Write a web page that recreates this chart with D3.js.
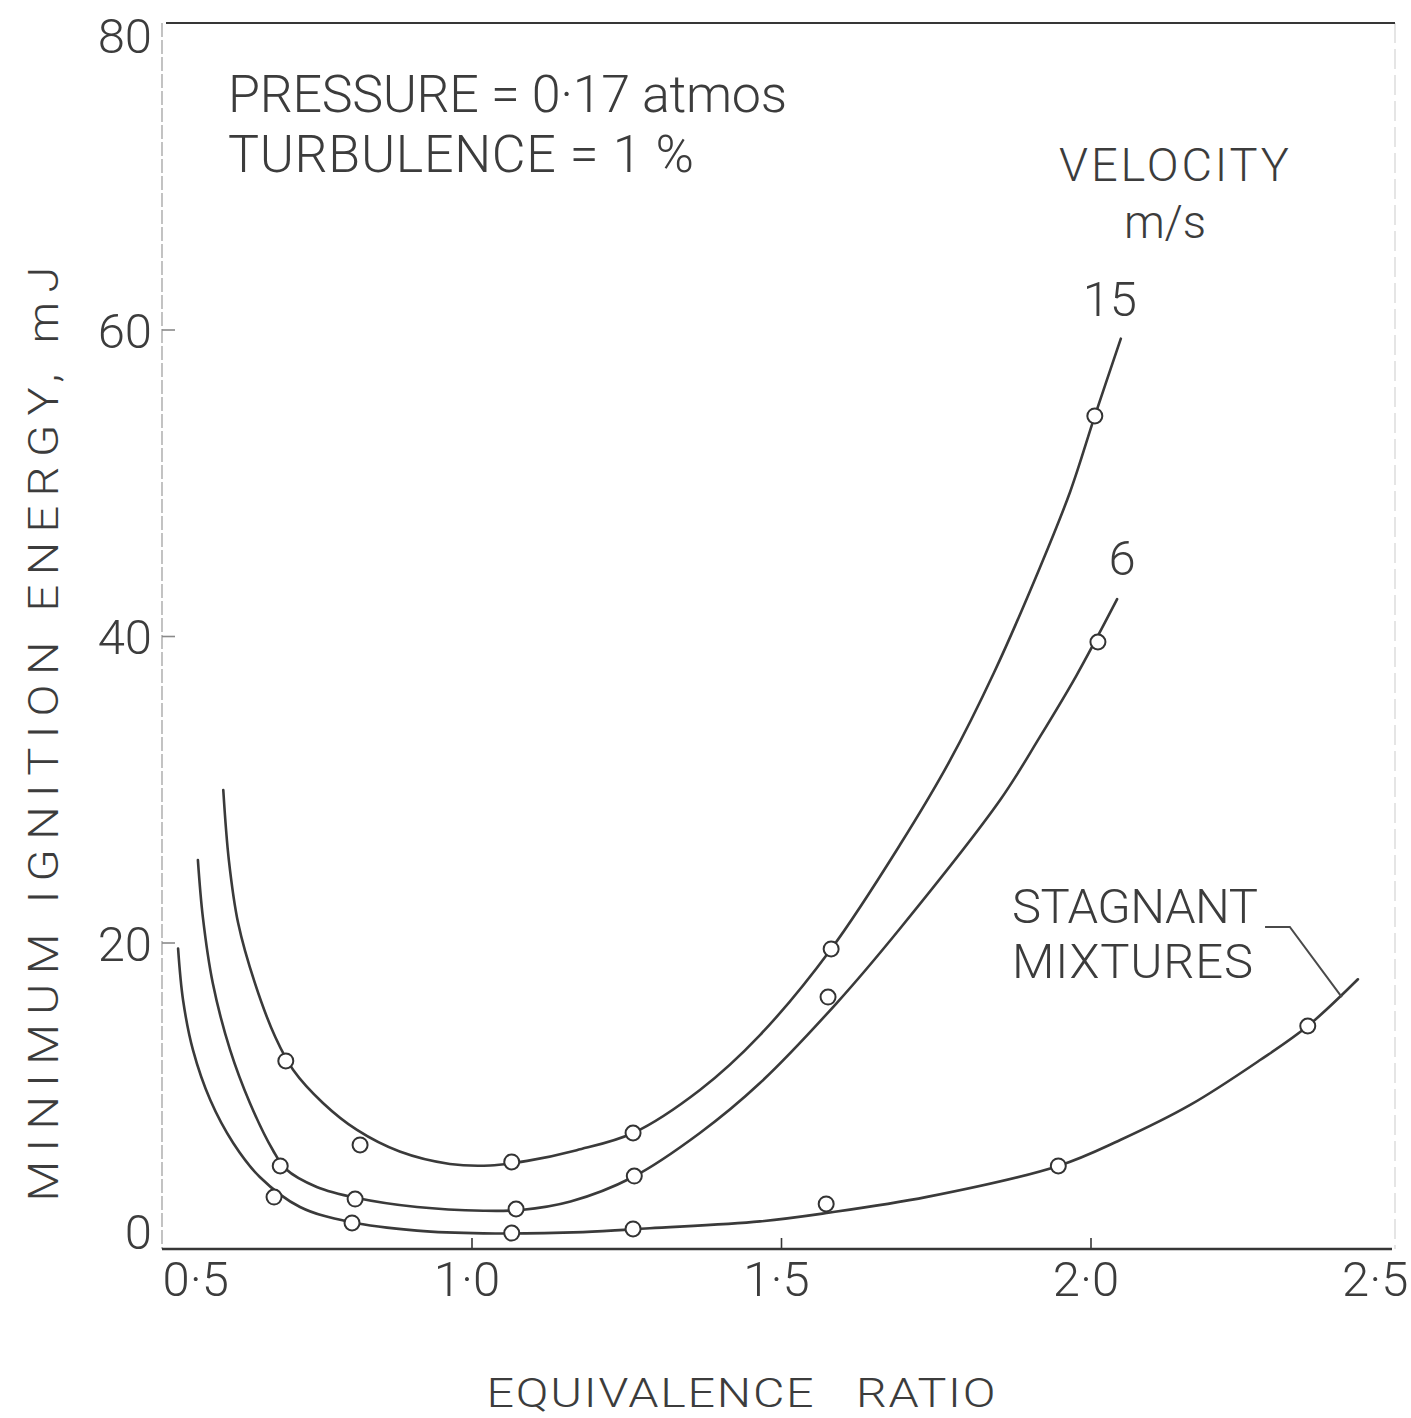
<!DOCTYPE html>
<html>
<head>
<meta charset="utf-8">
<title>Minimum ignition energy vs equivalence ratio</title>
<script src="https://cdn.jsdelivr.net/npm/d3@7/dist/d3.min.js"></script>
<style>
  html, body { margin: 0; padding: 0; background: #ffffff; }
  svg { display: block; }
  text { font-family: Roboto, "DejaVu Sans", sans-serif; font-weight: 300; fill: #3c3c3c; }
</style>
</head>
<body>
<svg id="chart" width="1411" height="1418"></svg>
<script>
// Axis ticks
const xTickValues = [0.5, 1.0, 1.5, 2.0, 2.5];
const xTickLabels = ["0·5", "1·0", "1·5", "2·0", "2·5"];
const yTickValues = [0, 20, 40, 60, 80];

// Faired curves [equivalence ratio, energy mJ]
const curve15 = [
  [0.599, 29.95], [0.608, 25.38], [0.623, 21.27], [0.650, 17.36], [0.683, 13.83],
  [0.712, 11.68], [0.760, 9.53], [0.815, 7.77], [0.884, 6.36], [0.965, 5.55],
  [1.030, 5.45], [1.090, 5.75], [1.170, 6.45], [1.261, 7.57], [1.369, 10.38],
  [1.466, 13.96], [1.581, 19.58], [1.692, 26.36], [1.773, 31.88], [1.844, 37.60],
  [1.918, 44.44], [1.967, 49.40], [2.007, 54.36], [2.049, 59.40]
];
const curve6 = [
  [0.558, 25.38], [0.566, 21.66], [0.582, 17.36], [0.610, 12.99], [0.642, 9.53],
  [0.679, 6.46], [0.700, 5.22], [0.750, 4.05], [0.815, 3.33], [0.912, 2.74],
  [1.019, 2.50], [1.080, 2.55], [1.160, 3.10], [1.261, 4.70], [1.369, 7.57],
  [1.466, 10.83], [1.590, 16.05], [1.692, 20.90], [1.854, 29.30], [1.918, 33.40],
  [1.977, 37.40], [2.043, 42.40]
];
const curveStagnant = [
  [0.526, 19.60], [0.534, 16.25], [0.550, 12.99], [0.578, 9.72], [0.615, 6.92],
  [0.658, 4.70], [0.723, 2.74], [0.804, 1.76], [0.912, 1.20], [1.019, 1.02],
  [1.180, 1.10], [1.288, 1.35], [1.466, 1.80], [1.574, 2.35], [1.736, 3.40],
  [1.948, 5.42], [2.048, 7.11], [2.161, 9.40], [2.274, 12.33], [2.351, 14.55],
  [2.432, 17.60]
];

// Measured points
const points15 = [[0.700, 12.27], [0.820, 6.79], [1.065, 5.68], [1.261, 7.57], [1.581, 19.58], [2.007, 54.36]];
const points6 = [[0.691, 5.42], [0.812, 3.26], [1.072, 2.61], [1.263, 4.76], [1.576, 16.44], [2.012, 39.61]];
const pointsStagnant = [[0.681, 3.39], [0.807, 1.70], [1.065, 1.04], [1.261, 1.31], [1.573, 2.94], [1.948, 5.42], [2.351, 14.55]];

// Leader from the STAGNANT MIXTURES label to its curve
const stagnantLeader = [[2.282, 21.01], [2.322, 21.01], [2.406, 16.44]];

const svg = d3.select("#chart");
const ink = "#363636";

const x = d3.scaleLinear().domain([0.5, 2.5]).range([162, 1400]);
const y = d3.scaleLinear().domain([0, 80]).range([1249, 23]);

// Frame: faint left and right sides, solid top and bottom
svg.append("line").attr("x1", x(0.5)).attr("x2", x(0.5)).attr("y1", y(80)).attr("y2", y(0))
  .attr("stroke", "#b4b4b4").attr("stroke-width", 1.6).attr("stroke-dasharray", "14,3");
svg.append("line").attr("x1", x(2.5) - 5).attr("x2", x(2.5) - 5).attr("y1", y(80)).attr("y2", y(0))
  .attr("stroke", "#dadada").attr("stroke-width", 1.4).attr("stroke-dasharray", "20,6");
svg.append("line").attr("x1", x(0.5) + 4).attr("x2", x(2.5) - 5).attr("y1", y(80)).attr("y2", y(80))
  .attr("stroke", ink).attr("stroke-width", 2.2);
svg.append("line").attr("x1", x(0.5)).attr("x2", x(2.5) - 8).attr("y1", y(0)).attr("y2", y(0))
  .attr("stroke", ink).attr("stroke-width", 2.4);

// Bottom axis, ticks pointing inward
const xAxis = d3.axisBottom(x)
  .tickValues(xTickValues)
  .tickFormat((d, i) => xTickLabels[i])
  .tickSize(-11)
  .tickPadding(12);
const gx = svg.append("g").attr("transform", `translate(0,${y(0)})`).call(xAxis);
gx.select(".domain").remove();
gx.selectAll(".tick line").attr("stroke", ink).attr("stroke-width", 1.6)
  .attr("display", d => (d === 0.5 || d === 2.5) ? "none" : null);
gx.selectAll(".tick text")
  .attr("font-size", 49).attr("font-family", null).attr("fill", "#3c3c3c")
  .attr("text-anchor", d => d === 0.5 ? "start" : (d === 2.5 ? "end" : "middle"))
  .attr("dx", d => d === 0.5 ? 0 : (d === 2.5 ? 8 : -5));

// Left axis, ticks pointing inward
const yAxis = d3.axisLeft(y)
  .tickValues(yTickValues)
  .tickSize(-13)
  .tickPadding(10);
const gy = svg.append("g").attr("transform", `translate(${x(0.5)},0)`).call(yAxis);
gy.select(".domain").remove();
gy.selectAll(".tick line").attr("stroke", "#8a8a8a").attr("stroke-width", 1.6)
  .attr("display", d => (d === 0 || d === 80) ? "none" : null);
gy.selectAll(".tick text")
  .attr("font-size", 49).attr("font-family", null).attr("fill", "#4a4a4a")
  .attr("dy", d => d === 0 ? "-0.02em" : (d === 80 ? "0.6em" : "0.36em"));

// Axis titles
svg.append("text")
  .attr("transform", `translate(58,${(y(0) + y(80)) / 2 + 98}) rotate(-90) scale(1.12,1)`)
  .attr("text-anchor", "middle").attr("font-size", 42)
  .attr("textLength", 935 / 1.12).attr("lengthAdjust", "spacing")
  .text("MINIMUM IGNITION ENERGY, mJ");
svg.append("text")
  .attr("transform", "translate(741,1407) scale(1.18,1)")
  .attr("text-anchor", "middle").attr("font-size", 41)
  .attr("textLength", 509 / 1.18).attr("lengthAdjust", "spacing")
  .style("white-space", "pre")
  .text("EQUIVALENCE   RATIO");

// Test conditions
svg.append("text").attr("x", 228).attr("y", 112).attr("font-size", 52)
  .attr("textLength", 559).attr("lengthAdjust", "spacing")
  .text("PRESSURE = 0·17 atmos");
svg.append("text").attr("x", 228).attr("y", 172).attr("font-size", 52)
  .attr("textLength", 466).attr("lengthAdjust", "spacing")
  .text("TURBULENCE = 1 %");

// Velocity key
svg.append("text").attr("x", 1174).attr("y", 181).attr("font-size", 47)
  .attr("text-anchor", "middle").attr("textLength", 230).attr("lengthAdjust", "spacing")
  .text("VELOCITY");
svg.append("text").attr("x", 1165).attr("y", 238).attr("font-size", 46)
  .attr("text-anchor", "middle").attr("textLength", 82).attr("lengthAdjust", "spacing")
  .text("m/s");

// Curves, faired through the knots
const line = d3.line()
  .x(d => x(d[0])).y(d => y(d[1]))
  .curve(d3.curveCatmullRom.alpha(0.5));

const series = [
  { name: "15", curve: curve15, points: points15 },
  { name: "6", curve: curve6, points: points6 },
  { name: "stagnant", curve: curveStagnant, points: pointsStagnant }
];

svg.append("g").selectAll("path").data(series).join("path")
  .attr("d", d => line(d.curve))
  .attr("fill", "none").attr("stroke", "#3a3a3a").attr("stroke-width", 2.6)
  .attr("stroke-linecap", "round");

// Curve labels placed just above the curve ends
const end15 = curve15[curve15.length - 1];
svg.append("text").attr("x", x(end15[0]) - 11).attr("y", y(end15[1]) - 23)
  .attr("font-size", 49).attr("text-anchor", "middle").text("15");
const end6 = curve6[curve6.length - 1];
svg.append("text").attr("x", x(end6[0]) + 5).attr("y", y(end6[1]) - 24)
  .attr("font-size", 49).attr("text-anchor", "middle").text("6");

// Stagnant label and leader
svg.append("text").attr("x", 1012).attr("y", 923).attr("font-size", 49)
  .attr("textLength", 246).attr("lengthAdjust", "spacing").text("STAGNANT");
svg.append("text").attr("x", 1012).attr("y", 978).attr("font-size", 49)
  .attr("textLength", 241).attr("lengthAdjust", "spacing").text("MIXTURES");
svg.append("path")
  .attr("d", d3.line().x(d => x(d[0])).y(d => y(d[1]))(stagnantLeader))
  .attr("fill", "none").attr("stroke", "#4a4a4a").attr("stroke-width", 2);

// Data points: open circles
svg.append("g").selectAll("g").data(series).join("g")
  .selectAll("circle").data(d => d.points).join("circle")
  .attr("cx", d => x(d[0])).attr("cy", d => y(d[1])).attr("r", 7.5)
  .attr("fill", "#ffffff").attr("stroke", "#333333").attr("stroke-width", 2);
</script>
</body>
</html>
